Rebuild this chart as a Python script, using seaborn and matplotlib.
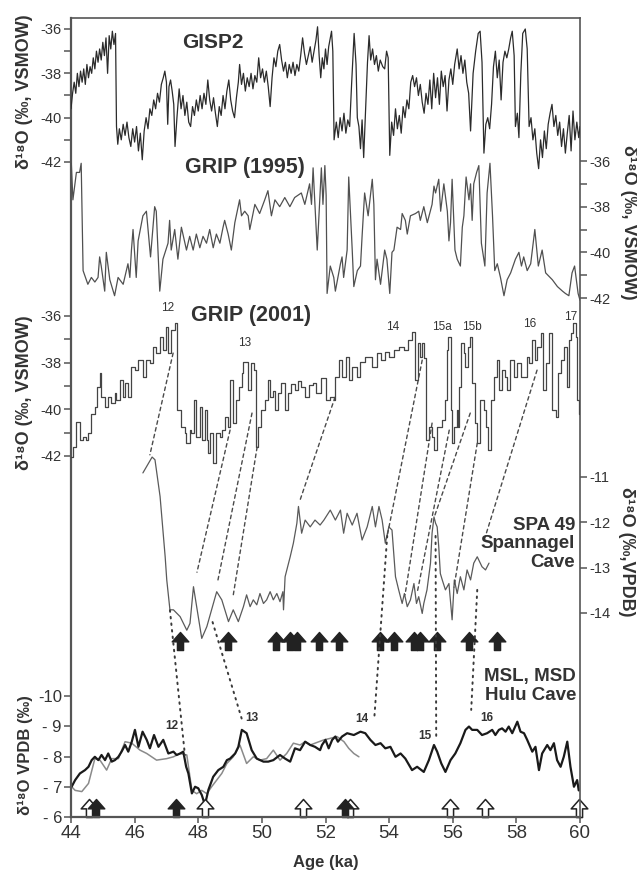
import matplotlib
matplotlib.use("Agg")
import matplotlib.pyplot as plt
from matplotlib.path import Path
from matplotlib.patches import ConnectionPatch
import seaborn as sns

# ---------------- DATA ----------------
gisp2_age = [44.00, 44.05, 44.10, 44.15, 44.20, 44.25, 44.30, 44.35, 44.40, 44.45, 44.50, 44.55, 44.60, 44.65,
             44.70, 44.75, 44.80, 44.85, 44.90, 44.95, 45.00, 45.05, 45.10, 45.15, 45.20, 45.25, 45.30, 45.35,
             45.40, 45.43, 45.47, 45.52, 45.58, 45.64, 45.70, 45.76, 45.82, 45.88, 45.94, 46.00, 46.06, 46.12,
             46.18, 46.24, 46.30, 46.36, 46.42, 46.48, 46.54, 46.60, 46.66, 46.72, 46.78, 46.84, 46.90, 46.95,
             47.00, 47.04, 47.08, 47.13, 47.18, 47.23, 47.27, 47.33, 47.40, 47.46, 47.52, 47.58, 47.64, 47.70,
             47.76, 47.82, 47.88, 47.94, 48.00, 48.06, 48.12, 48.18, 48.24, 48.30, 48.36, 48.42, 48.48, 48.54,
             48.60, 48.66, 48.72, 48.78, 48.84, 48.90, 48.96, 49.02, 49.08, 49.14, 49.20, 49.26, 49.30, 49.36,
             49.42, 49.48, 49.54, 49.60, 49.66, 49.72, 49.78, 49.84, 49.90, 49.96, 50.02, 50.08, 50.14, 50.20,
             50.26, 50.32, 50.38, 50.44, 50.50, 50.56, 50.62, 50.68, 50.74, 50.80, 50.86, 50.92, 50.98, 51.04,
             51.10, 51.16, 51.22, 51.28, 51.34, 51.40, 51.46, 51.52, 51.58, 51.64, 51.70, 51.75, 51.80, 51.85,
             51.90, 51.95, 52.00, 52.05, 52.10, 52.15, 52.19, 52.23, 52.27, 52.34, 52.40, 52.46, 52.52, 52.58,
             52.64, 52.70, 52.76, 52.82, 52.90, 52.96, 53.00, 53.05, 53.10, 53.15, 53.20, 53.26, 53.32, 53.37,
             53.42, 53.48, 53.54, 53.60, 53.66, 53.72, 53.80, 53.86, 53.92, 53.97, 54.02, 54.08, 54.14, 54.20,
             54.26, 54.32, 54.38, 54.44, 54.50, 54.56, 54.62, 54.68, 54.74, 54.80, 54.86, 54.92, 54.98, 55.04,
             55.10, 55.16, 55.22, 55.28, 55.34, 55.40, 55.46, 55.52, 55.58, 55.64, 55.70, 55.76, 55.82, 55.88,
             55.94, 56.00, 56.06, 56.14, 56.20, 56.26, 56.32, 56.38, 56.44, 56.50, 56.56, 56.64, 56.72, 56.80,
             56.86, 56.92, 56.98, 57.04, 57.10, 57.16, 57.22, 57.28, 57.34, 57.40, 57.46, 57.52, 57.58, 57.64,
             57.70, 57.76, 57.82, 57.87, 57.93, 57.97, 58.03, 58.08, 58.14, 58.20, 58.28, 58.34, 58.40, 58.46,
             58.52, 58.58, 58.64, 58.70, 58.76, 58.82, 58.88, 58.94, 59.00, 59.06, 59.12, 59.18, 59.24, 59.30,
             59.36, 59.42, 59.48, 59.54, 59.60, 59.66, 59.72, 59.78, 59.84, 59.90, 59.96, 60.00]
gisp2_d18o = [-39.6, -38.9, -38.4, -38.9, -38.0, -38.6, -37.9, -38.4, -37.8, -38.5, -37.6, -38.2, -37.7, -38.0,
              -37.3, -37.8, -37.0, -37.5, -36.9, -37.4, -36.6, -37.2, -36.4, -38.0, -36.3, -36.9, -36.1, -36.7,
              -36.2, -40.4, -41.2, -40.5, -41.0, -40.3, -40.8, -40.2, -40.9, -41.3, -40.5, -41.1, -40.4, -41.5,
              -40.7, -41.9, -40.6, -40.0, -40.5, -39.6, -39.9, -39.2, -39.6, -38.9, -39.3, -38.5, -38.2, -37.9,
              -38.4, -40.3, -38.6, -38.3, -38.8, -39.4, -41.3, -40.0, -38.7, -39.6, -39.0, -39.9, -39.3, -40.2,
              -40.4, -39.5, -39.9, -39.2, -39.7, -39.0, -39.6, -38.9, -39.4, -38.3, -39.2, -39.7, -39.1, -39.8,
              -40.4, -39.5, -39.9, -39.0, -39.6, -38.8, -38.3, -39.2, -39.7, -40.0, -39.1, -38.4, -37.6, -38.5,
              -38.0, -38.8, -38.2, -38.6, -38.0, -38.7, -38.1, -38.4, -37.3, -38.2, -37.8, -38.4, -37.9, -38.6,
              -39.5, -38.2, -37.3, -37.7, -37.0, -36.7, -37.4, -37.9, -37.5, -38.2, -37.6, -38.0, -37.5, -38.1,
              -37.6, -37.9, -37.2, -36.4, -37.1, -37.6, -37.2, -36.8, -37.5, -37.0, -36.5, -35.9, -37.2, -38.2,
              -37.3, -37.8, -36.9, -37.6, -36.8, -36.4, -36.1, -37.0, -41.0, -40.2, -40.9, -40.0, -40.6, -39.8,
              -40.7, -40.1, -40.4, -38.5, -36.2, -37.6, -40.0, -40.4, -41.4, -40.1, -41.8, -39.7, -37.5, -36.3,
              -37.4, -36.9, -37.6, -37.2, -37.9, -37.4, -37.7, -37.8, -37.0, -37.3, -41.7, -40.2, -40.8, -39.6,
              -40.5, -39.9, -40.7, -39.5, -40.0, -39.2, -39.6, -38.4, -38.1, -38.6, -38.2, -39.0, -38.5, -39.3,
              -39.8, -38.9, -39.4, -38.3, -39.6, -38.0, -39.1, -38.2, -39.4, -37.9, -38.6, -38.1, -39.7, -38.3,
              -37.8, -38.5, -37.6, -36.9, -37.8, -37.2, -38.0, -37.4, -38.4, -38.9, -40.6, -38.0, -37.0, -36.2,
              -36.1, -37.5, -41.6, -40.3, -40.0, -40.5, -39.4, -37.7, -37.0, -38.2, -37.4, -39.2, -37.5, -37.0,
              -37.3, -36.9, -36.4, -36.1, -37.2, -40.4, -39.8, -40.9, -38.0, -36.2, -36.0, -36.9, -40.4, -40.0,
              -41.0, -40.5, -41.6, -42.3, -41.0, -41.8, -40.6, -41.4, -40.3, -39.8, -39.4, -40.4, -39.9, -40.8,
              -40.2, -41.3, -40.5, -41.6, -40.7, -39.9, -41.5, -39.7, -41.0, -40.2, -40.9, -40.4]

grip95_age = [44.01, 44.06, 44.17, 44.27, 44.32, 44.38, 44.53, 44.64, 44.75, 44.85, 44.90, 44.95, 45.06, 45.11,
              45.22, 45.37, 45.48, 45.64, 45.79, 45.85, 45.90, 45.95, 46.05, 46.11, 46.26, 46.37, 46.50, 46.63,
              46.68, 46.79, 46.89, 47.05, 47.10, 47.15, 47.26, 47.36, 47.47, 47.63, 47.73, 47.84, 47.94, 48.05,
              48.15, 48.26, 48.36, 48.47, 48.57, 48.68, 48.78, 48.83, 48.94, 49.04, 49.15, 49.30, 49.36, 49.46,
              49.57, 49.62, 49.78, 49.93, 50.09, 50.19, 50.30, 50.41, 50.56, 50.72, 50.88, 51.03, 51.24, 51.35,
              51.50, 51.56, 51.61, 51.74, 51.87, 51.92, 51.98, 52.02, 52.05, 52.15, 52.26, 52.31, 52.47, 52.52,
              52.57, 52.68, 52.73, 52.84, 52.89, 53.00, 53.10, 53.15, 53.23, 53.34, 53.47, 53.52, 53.57, 53.62,
              53.73, 53.86, 53.93, 54.02, 54.09, 54.15, 54.25, 54.36, 54.41, 54.51, 54.57, 54.67, 54.83, 54.93,
              54.98, 55.09, 55.20, 55.35, 55.41, 55.46, 55.56, 55.62, 55.72, 55.83, 55.88, 55.93, 55.98, 56.07,
              56.14, 56.24, 56.30, 56.35, 56.42, 56.51, 56.56, 56.61, 56.66, 56.75, 56.82, 56.90, 57.01, 57.08,
              57.17, 57.25, 57.32, 57.40, 57.50, 57.61, 57.71, 57.82, 57.97, 58.08, 58.16, 58.23, 58.34, 58.45,
              58.58, 58.69, 58.81, 58.92, 59.13, 59.29, 59.45, 59.54, 59.65, 59.75, 59.83, 59.94, 60.00]
grip95_d18o = [-36.1, -37.7, -36.5, -36.5, -36.1, -40.8, -41.4, -41.1, -41.3, -41.1, -40.2, -40.6, -41.7, -40.0,
               -41.2, -41.9, -41.1, -41.4, -40.5, -41.1, -39.9, -39.0, -41.1, -39.5, -38.4, -38.2, -40.2, -38.0,
               -38.2, -41.7, -40.3, -39.6, -38.6, -39.9, -39.0, -40.3, -38.9, -39.9, -39.3, -39.9, -39.2, -39.8,
               -39.3, -39.6, -39.0, -39.8, -39.2, -39.6, -38.9, -38.6, -39.2, -39.9, -38.7, -37.7, -38.4, -38.2,
               -38.4, -39.0, -37.9, -38.3, -37.7, -37.3, -38.4, -37.7, -38.0, -37.6, -38.0, -37.6, -37.4, -37.9,
               -37.0, -37.9, -36.3, -39.9, -36.3, -37.9, -36.2, -37.5, -41.8, -40.6, -41.1, -41.7, -40.5, -40.2,
               -41.1, -39.9, -36.7, -39.9, -41.5, -40.8, -40.6, -39.3, -37.4, -38.4, -36.8, -37.9, -41.2, -40.3,
               -41.4, -39.9, -40.3, -41.8, -40.0, -39.9, -38.9, -39.0, -38.3, -38.6, -39.2, -38.4, -38.3, -38.2,
               -38.6, -38.0, -38.7, -37.9, -37.1, -37.4, -36.8, -38.2, -37.0, -38.2, -39.5, -38.7, -36.8, -39.9,
               -40.3, -40.6, -38.9, -38.4, -36.7, -37.7, -37.0, -38.6, -37.0, -36.5, -36.2, -39.6, -40.6, -37.4,
               -36.1, -38.4, -40.8, -40.5, -41.1, -41.9, -41.2, -40.9, -40.3, -40.0, -40.6, -40.2, -40.8, -40.5,
               -39.0, -40.6, -39.9, -40.9, -41.2, -41.5, -41.7, -41.8, -41.9, -40.9, -40.6, -41.8, -42.1]

grip01_age = [44.01, 44.06, 44.17, 44.27, 44.38, 44.48, 44.53, 44.64, 44.75, 44.83, 44.90, 44.95, 45.06, 45.16,
              45.27, 45.37, 45.43, 45.53, 45.64, 45.69, 45.79, 45.88, 46.00, 46.11, 46.26, 46.37, 46.47, 46.58,
              46.68, 46.79, 46.89, 47.00, 47.05, 47.15, 47.26, 47.34, 47.47, 47.58, 47.63, 47.73, 47.78, 47.87,
              47.94, 48.05, 48.13, 48.20, 48.26, 48.31, 48.36, 48.47, 48.57, 48.68, 48.75, 48.83, 48.94, 49.01,
              49.09, 49.20, 49.27, 49.36, 49.41, 49.57, 49.67, 49.75, 49.83, 49.88, 49.98, 50.09, 50.19, 50.25,
              50.35, 50.41, 50.51, 50.61, 50.72, 50.82, 50.92, 51.03, 51.13, 51.24, 51.35, 51.48, 51.61, 51.71,
              51.87, 52.00, 52.15, 52.26, 52.31, 52.42, 52.52, 52.63, 52.73, 52.84, 52.99, 53.10, 53.25, 53.47,
              53.62, 53.73, 53.88, 53.99, 54.15, 54.30, 54.46, 54.60, 54.72, 54.81, 54.91, 54.98, 55.04, 55.09,
              55.17, 55.25, 55.35, 55.42, 55.51, 55.67, 55.77, 55.82, 55.86, 55.93, 55.98, 56.05, 56.12, 56.17,
              56.21, 56.27, 56.35, 56.40, 56.47, 56.54, 56.61, 56.69, 56.77, 56.87, 56.98, 57.03, 57.10, 57.19,
              57.29, 57.40, 57.45, 57.55, 57.64, 57.71, 57.81, 57.92, 58.03, 58.13, 58.34, 58.39, 58.50, 58.58,
              58.65, 58.76, 58.83, 58.92, 59.02, 59.13, 59.23, 59.31, 59.39, 59.49, 59.60, 59.65, 59.73, 59.78,
              59.86, 59.91, 59.97, 60.00]
grip01_d18o = [-42.05, -41.60, -40.53, -41.32, -41.18, -41.32, -41.03, -40.18, -39.89, -39.03, -38.46, -39.46,
               -39.89, -39.46, -39.75, -39.32, -39.60, -38.75, -39.46, -38.89, -39.46, -38.17, -38.32, -37.89,
               -38.60, -37.89, -38.03, -37.32, -37.60, -36.89, -37.46, -36.46, -37.60, -36.60, -36.32, -40.03,
               -40.75, -41.03, -41.46, -40.89, -41.03, -39.60, -41.18, -39.89, -41.32, -40.03, -41.32, -41.89,
               -41.03, -42.32, -41.03, -41.18, -40.89, -40.32, -40.75, -38.75, -40.60, -39.60, -39.03, -38.46,
               -37.96, -39.18, -38.03, -38.32, -41.60, -40.75, -40.03, -39.60, -38.75, -39.46, -39.20, -40.03,
               -39.32, -38.89, -40.03, -39.32, -38.90, -39.18, -38.80, -39.03, -39.46, -38.95, -38.89, -39.32,
               -38.67, -39.60, -39.46, -39.60, -38.60, -37.89, -38.60, -37.75, -38.75, -38.17, -38.60, -37.96,
               -37.75, -38.17, -37.60, -37.89, -37.53, -37.75, -37.46, -37.32, -37.46, -37.03, -36.67, -38.75,
               -37.17, -37.75, -37.17, -37.82, -41.32, -40.75, -41.18, -41.75, -40.75, -40.46, -39.60, -37.46,
               -36.89, -40.03, -41.46, -40.75, -40.03, -40.75, -39.03, -37.17, -37.60, -38.17, -37.32, -36.89,
               -38.89, -40.60, -41.46, -39.60, -40.03, -40.75, -41.75, -39.60, -38.60, -37.89, -39.18, -38.32,
               -38.60, -39.18, -37.89, -38.60, -38.03, -38.60, -37.75, -38.03, -37.03, -37.89, -37.32, -36.75,
               -39.18, -38.03, -36.75, -40.03, -40.32, -38.46, -37.89, -37.32, -39.03, -37.03, -36.75, -36.32,
               -36.89, -39.60, -40.18, -40.18]

spa_age = [46.26, 46.55, 46.64, 46.80, 46.96, 47.01, 47.11, 47.22, 47.43, 47.64, 47.74, 47.85, 47.95, 48.11,
           48.27, 48.58, 48.74, 48.95, 49.10, 49.26, 49.42, 49.52, 49.63, 49.73, 49.84, 49.94, 50.05, 50.15,
           50.26, 50.36, 50.47, 50.57, 50.66, 50.68, 50.73, 50.89, 50.99, 51.10, 51.15, 51.25, 51.36, 51.52,
           51.67, 51.83, 51.95, 52.15, 52.31, 52.47, 52.57, 52.68, 52.84, 52.99, 53.15, 53.31, 53.47, 53.57,
           53.68, 53.78, 53.88, 53.99, 54.09, 54.20, 54.30, 54.41, 54.48, 54.57, 54.67, 54.78, 54.86, 54.93,
           55.04, 55.09, 55.19, 55.30, 55.35, 55.41, 55.46, 55.51, 55.56, 55.61, 55.67, 55.77, 55.88, 55.98,
           56.05, 56.14, 56.24, 56.35, 56.45, 56.56, 56.66, 56.77, 56.92, 57.03, 57.14]
spa_d18o = [-10.91, -10.56, -10.62, -11.43, -12.76, -13.27, -13.93, -13.93, -14.08, -14.38, -14.23, -13.42,
            -13.86, -14.56, -14.30, -13.53, -13.71, -14.19, -13.93, -14.19, -13.86, -13.60, -13.86, -13.71,
            -13.82, -13.57, -13.79, -13.71, -13.53, -13.71, -13.57, -13.75, -13.53, -13.93, -13.20, -12.76,
            -12.46, -12.02, -11.65, -12.24, -11.95, -12.10, -11.95, -12.06, -11.95, -11.73, -11.95, -11.73,
            -12.24, -11.80, -12.06, -11.80, -12.39, -12.10, -11.65, -12.10, -11.65, -11.95, -12.46, -12.10,
            -12.17, -13.20, -13.49, -13.79, -13.57, -13.86, -13.71, -13.35, -13.79, -13.64, -14.01, -13.79,
            -13.49, -12.90, -12.24, -11.88, -12.02, -12.10, -12.54, -13.13, -13.27, -13.49, -13.35, -14.15,
            -13.27, -13.57, -13.20, -13.49, -13.05, -13.27, -12.90, -12.76, -12.98, -13.05, -12.90]

msl_age = [44.02, 44.13, 44.28, 44.44, 44.55, 44.65, 44.75, 44.86, 44.96, 45.07, 45.17, 45.28, 45.38, 45.49,
           45.59, 45.70, 45.80, 45.91, 46.01, 46.12, 46.25, 46.38, 46.48, 46.61, 46.75, 46.90, 47.06, 47.22,
           47.32, 47.43, 47.53, 47.62, 47.69, 47.80, 47.90, 48.00, 48.11, 48.21, 48.32, 48.47, 48.63, 48.79,
           48.90, 49.00, 49.16, 49.26, 49.37, 49.52, 49.68, 49.84, 50.05, 50.20, 50.36, 50.57, 50.73, 50.89,
           51.04, 51.20, 51.36, 51.52, 51.67, 51.83, 51.89, 52.00, 52.10, 52.21, 52.31, 52.39, 52.52, 52.68,
           52.89, 53.10, 53.25, 53.41, 53.57, 53.73, 53.88, 54.04, 54.20, 54.36, 54.51, 54.72, 54.88, 55.09,
           55.25, 55.41, 55.51, 55.64, 55.77, 55.93, 56.08, 56.24, 56.40, 56.51, 56.61, 56.77, 56.92, 57.08,
           57.24, 57.34, 57.45, 57.55, 57.66, 57.76, 57.87, 58.03, 58.13, 58.24, 58.34, 58.50, 58.60, 58.71,
           58.81, 58.97, 59.07, 59.18, 59.28, 59.39, 59.49, 59.60, 59.70, 59.81, 59.91, 59.96]
msl_d18o = [-7.00, -7.22, -7.44, -7.55, -7.66, -7.88, -7.99, -7.88, -8.05, -7.88, -8.10, -7.83, -7.88, -7.99,
            -8.16, -8.38, -8.16, -8.49, -8.88, -8.32, -8.82, -8.55, -8.27, -8.71, -8.32, -8.55, -8.10, -8.16,
            -8.05, -8.10, -8.16, -7.66, -7.44, -6.78, -7.00, -6.95, -6.73, -6.40, -6.90, -7.33, -7.55, -7.66,
            -7.88, -7.93, -8.10, -8.32, -8.88, -8.77, -8.21, -7.93, -7.83, -7.83, -7.88, -8.05, -7.93, -7.83,
            -8.27, -8.21, -8.49, -8.38, -8.32, -8.21, -8.38, -8.55, -8.27, -8.55, -8.66, -8.49, -8.66, -8.77,
            -8.71, -8.82, -8.77, -8.55, -8.38, -8.44, -8.27, -8.32, -7.99, -8.10, -7.93, -7.55, -7.66, -7.49,
            -7.88, -8.38, -8.16, -7.77, -7.49, -7.88, -8.10, -8.44, -8.88, -8.99, -8.88, -8.88, -8.71, -8.77,
            -8.88, -8.71, -8.88, -8.93, -8.82, -8.99, -8.77, -9.15, -8.82, -8.77, -8.55, -8.16, -8.32, -7.55,
            -8.10, -8.38, -8.21, -8.44, -7.88, -7.66, -7.99, -8.49, -7.66, -7.00, -7.22, -6.88]

msd_age = [44.02, 44.13, 44.34, 44.55, 44.75, 44.91, 45.12, 45.28, 45.49, 45.70, 45.91, 46.17, 46.38, 46.69,
           47.01, 47.22, 47.43, 47.64, 47.80, 47.95, 48.11, 48.27, 48.42, 48.58, 48.74, 48.90, 49.10, 49.31,
           49.52, 49.73, 49.94, 50.15, 50.36, 50.57, 50.78, 50.99, 51.20, 51.36, 51.52, 51.67, 51.95, 52.15,
           52.36, 52.58, 52.73, 52.89, 53.05]
msd_d18o = [-7.00, -6.88, -6.84, -7.11, -7.93, -7.88, -7.55, -7.93, -7.93, -8.49, -8.44, -8.21, -8.10, -7.88,
            -7.93, -7.99, -8.10, -8.05, -6.88, -6.77, -6.88, -6.77, -7.00, -7.22, -7.44, -7.77, -7.99, -8.38,
            -7.77, -7.99, -7.88, -7.93, -8.21, -7.88, -8.10, -8.44, -8.38, -8.49, -8.38, -8.44, -8.55, -8.60,
            -8.66, -8.49, -8.27, -8.10, -7.99]

# U/Th dates (arrows)
spa_dates = [47.43, 48.94, 50.45, 50.89, 51.10, 51.80, 52.43, 53.72, 54.16, 54.79, 54.97, 55.50, 56.50, 57.40]
hulu_dates_filled = [44.80, 47.30, 52.60]
hulu_dates_open = [44.58, 48.20, 51.30, 52.77, 55.90, 57.00, 59.97]

# tie points GRIP(2001) -> SPA 49
tie_grip_age = [47.21, 49.00, 49.69, 49.85, 52.30, 55.04, 55.35, 55.89, 56.55, 56.77, 58.65]
tie_grip_val = [-37.59, -40.89, -40.16, -41.62, -39.48, -37.89, -40.59, -40.89, -40.16, -41.45, -38.32]
tie_spa_age = [46.48, 47.96, 48.62, 49.09, 51.20, 53.94, 54.50, 54.88, 55.42, 56.04, 56.99]
tie_spa_val = [-10.51, -13.10, -13.27, -13.65, -11.51, -12.30, -13.60, -13.56, -11.88, -13.43, -12.39]
# tie points SPA 49 -> Hulu
tie2_spa_age = [47.11, 48.45, 53.94, 55.46, 56.77]
tie2_spa_val = [-13.94, -14.20, -12.30, -12.30, -13.49]
tie2_hulu_age = [47.58, 49.38, 53.53, 55.48, 56.58]
tie2_hulu_val = [-8.05, -9.20, -9.21, -8.64, -9.54]

x_ticks = [44, 46, 48, 50, 52, 54, 56, 58, 60]

# ---------------- STYLE / LAYOUT ----------------
sns.set_style("ticks")
plt.rcParams['font.family'] = ['Liberation Sans', 'DejaVu Sans']
plt.rcParams['axes.unicode_minus'] = False

W_PX, H_PX = 637, 871
fig = plt.figure(figsize=(W_PX / 100, H_PX / 100), dpi=100)


def fx(x):
    return x / W_PX


def fy(y):
    return 1 - y / H_PX


TOP, BOT, LEFT, RIGHT = 18, 817, 71, 580
FRAME = [fx(LEFT), fy(BOT), (RIGHT - LEFT) / W_PX, (BOT - TOP) / H_PX]
TXT = '#333333'
TICKC = '#555555'


def calib_ylim(v1, y1, v2, y2):
    s = (v2 - v1) / (y2 - y1)
    return v1 + (BOT - y1) * s, v1 + (TOP - y1) * s


def overlay(side, lim, major, minor):
    ax = fig.add_axes(FRAME, facecolor='none')
    ax.set_xlim(44, 60)
    ax.set_ylim(*lim)
    for s in ax.spines.values():
        s.set_visible(False)
    ax.xaxis.set_visible(False)
    ax.yaxis.set_ticks_position(side)
    ax.set_yticks(major)
    ax.set_yticks(minor, minor=True)
    ax.tick_params(axis='y', which='both', direction='out', length=5, width=1.1,
                   color=TICKC, labelsize=10.5, labelcolor=TXT, pad=1.5)
    return ax


LIM_G2 = calib_ylim(-36, 29, -42, 162)
LIM_G95 = calib_ylim(-36, 161, -42, 298)
LIM_G01 = calib_ylim(-36, 316, -42, 456)
LIM_SPA = calib_ylim(-11, 477, -14, 613)
LIM_H = calib_ylim(-10, 696, -6, 817)

# main frame = Hulu axis
ax_h = fig.add_axes(FRAME)
ax_g2 = overlay('left', LIM_G2, [-36, -38, -40, -42], [-37, -39, -41])
ax_g95 = overlay('right', LIM_G95, [-36, -38, -40, -42], [-37, -39, -41])
ax_g01 = overlay('left', LIM_G01, [-36, -38, -40, -42], [-37, -39, -41])
ax_spa = overlay('right', LIM_SPA, [-11, -12, -13, -14], [])

sns.lineplot(x=gisp2_age, y=gisp2_d18o, ax=ax_g2, color='#2b2b2b', linewidth=0.9,
             estimator=None, sort=False, legend=False)
sns.lineplot(x=grip95_age, y=grip95_d18o, ax=ax_g95, color='#505050', linewidth=0.9,
             estimator=None, sort=False, legend=False)
sns.lineplot(x=grip01_age, y=grip01_d18o, ax=ax_g01, color='#444444', linewidth=0.9,
             estimator=None, sort=False, legend=False, drawstyle='steps-post')
sns.lineplot(x=spa_age, y=spa_d18o, ax=ax_spa, color='#5a5a5a', linewidth=0.9,
             estimator=None, sort=False, legend=False)
sns.lineplot(x=msd_age, y=msd_d18o, ax=ax_h, color='#8a8a8a', linewidth=1.1,
             estimator=None, sort=False, legend=False)
sns.lineplot(x=msl_age, y=msl_d18o, ax=ax_h, color='#1a1a1a', linewidth=1.6,
             estimator=None, sort=False, legend=False)

for ax, lim in [(ax_g2, LIM_G2), (ax_g95, LIM_G95), (ax_g01, LIM_G01), (ax_spa, LIM_SPA)]:
    ax.set_xlim(44, 60)
    ax.set_ylim(*lim)
    ax.set_xlabel('')
    ax.set_ylabel('')

ax_h.set_xlim(44, 60)
ax_h.set_ylim(*LIM_H)
ax_h.set_yticks([-6, -7, -8, -9, -10])
ax_h.set_yticklabels(['- 6', '- 7', '- 8', '- 9', '-10'])
ax_h.set_xticks(x_ticks)
ax_h.set_xticklabels([str(t) for t in x_ticks])
ax_h.tick_params(axis='y', direction='out', length=5, width=1.1, color=TICKC,
                 labelsize=12, labelcolor=TXT, pad=1.5)
ax_h.tick_params(axis='x', direction='out', length=4, width=1.1, color=TICKC,
                 labelsize=13.5, labelcolor=TXT, pad=2)
ax_h.set_xlabel('')
ax_h.set_ylabel('')
for side, s in ax_h.spines.items():
    s.set_visible(True)
    s.set_color('#555555')
    s.set_linewidth(1.6 if side in ('left', 'bottom') else 1.2)

# tie lines
for ga, gv, sa, sv in zip(tie_grip_age, tie_grip_val, tie_spa_age, tie_spa_val):
    cp = ConnectionPatch(xyA=(ga, gv), coordsA=ax_g01.transData, xyB=(sa, sv), coordsB=ax_spa.transData,
                         color='#4a4a4a', linewidth=1.0, linestyle=(0, (2.6, 2.4)))
    fig.add_artist(cp)
for sa, sv, ha, hv in zip(tie2_spa_age, tie2_spa_val, tie2_hulu_age, tie2_hulu_val):
    cp = ConnectionPatch(xyA=(sa, sv), coordsA=ax_spa.transData, xyB=(ha, hv), coordsB=ax_h.transData,
                         color='#3a3a3a', linewidth=1.4, linestyle=(0, (0.8, 2.6)))
    fig.add_artist(cp)

# arrow markers for dates
ARROW = Path([(0, 0.5), (-0.46, -0.02), (-0.17, -0.02), (-0.17, -0.5), (0.17, -0.5), (0.17, -0.02),
              (0.46, -0.02), (0, 0.5)],
             [Path.MOVETO] + [Path.LINETO] * 6 + [Path.CLOSEPOLY])
tr = ax_h.get_xaxis_transform()
ax_h.plot(spa_dates, [(BOT - 641) / (BOT - TOP)] * len(spa_dates), transform=tr, linestyle='none',
          marker=ARROW, markersize=13, markerfacecolor='#222222', markeredgecolor='#222222', clip_on=False)
ax_h.plot(hulu_dates_open, [(BOT - 808) / (BOT - TOP)] * len(hulu_dates_open), transform=tr,
          linestyle='none', marker=ARROW, markersize=13, markerfacecolor='white',
          markeredgecolor='#222222', markeredgewidth=1.1, clip_on=False)
ax_h.plot(hulu_dates_filled, [(BOT - 808) / (BOT - TOP)] * len(hulu_dates_filled), transform=tr,
          linestyle='none', marker=ARROW, markersize=13, markerfacecolor='#222222',
          markeredgecolor='#222222', clip_on=False)

# ---------------- TEXT ----------------
def t(x, y, s, size, weight='bold', ha='center', va='center', rot=0, ls=1.2):
    fig.text(fx(x), fy(y), s, fontsize=size, fontweight=weight, ha=ha, va=va, rotation=rot,
             color=TXT, linespacing=ls)


t(213, 43, 'GISP2', 15)
t(245, 167, 'GRIP (1995)', 15.5)
t(251, 315, 'GRIP (2001)', 15.5)
t(575, 544, 'SPA 49\nSpannagel\nCave', 13.5, ha='right', ls=1.1)
t(576, 686, 'MSL, MSD\nHulu Cave', 13.5, ha='right', ls=1.1)
t(326, 862, 'Age (ka)', 12)

for x, y, s in [(168, 308, '12'), (245, 343, '13'), (393, 327, '14'), (442, 327, '15a'),
                (472, 327, '15b'), (530, 324, '16'), (571, 317, '17')]:
    t(x, y, s, 8.5, weight='normal')
for x, y, s in [(172, 726, '12'), (252, 718, '13'), (362, 719, '14'), (425, 736, '15'), (487, 718, '16')]:
    t(x, y, s, 8.5)

t(25, 92, 'δ¹⁸O (‰, VSMOW)', 13, rot=90)
t(25, 393, 'δ¹⁸O (‰, VSMOW)', 13, rot=90)
t(25, 755, 'δ¹⁸O VPDB (‰)', 12, rot=90)
t(628, 222, 'δ¹⁸O (‰, VSMOW)', 13, rot=270)
t(627, 552, 'δ¹⁸O (‰,VPDB)', 13, rot=270)

fig.savefig('out.png', dpi=100)
